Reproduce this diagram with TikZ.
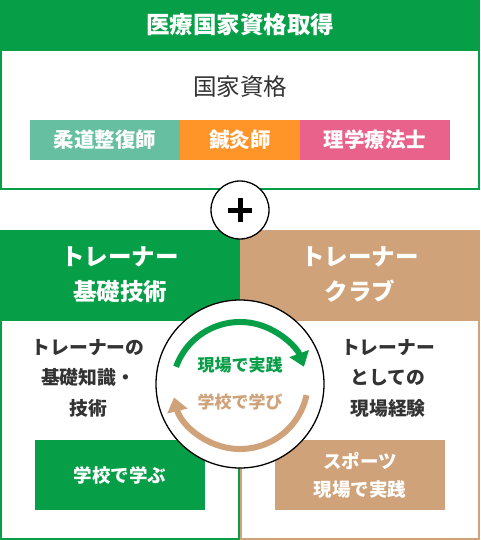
\documentclass[tikz,border=0pt]{standalone}
\usepackage{fontspec}
\newfontfamily\jpfont{Noto Sans CJK JP}
\usetikzlibrary{arrows.meta}
\definecolor{certgreen}{HTML}{079E48}
\definecolor{clubtan}{HTML}{CFA27A}
\definecolor{judoteal}{HTML}{66BFA0}
\definecolor{acuorange}{HTML}{FF9428}
\definecolor{physpink}{HTML}{E8628B}
\definecolor{bodygray}{HTML}{333333}
\tikzset{
	band/.style = {rectangle, anchor = north west, inner sep = 0pt, outer sep = 0pt, text = white},
	frame/.style = {rectangle, anchor = north west, inner sep = 0pt, outer sep = 0pt, line width = 2pt},
	roundel/.style = {circle, draw = black, fill = white, line width = 1.3pt, inner sep = 0pt},
	body/.style = {align = center, text = bodygray, font = \jpfont\bfseries\fontsize{18.8}{30.5}\selectfont},
	cycle arrow/.style = {line width = 6pt, -{Triangle[length = 14pt, width = 20pt]}}
}

\begin{document}
\begin{tikzpicture}[x=1pt, y=-1pt]
	\useasboundingbox (0,0) rectangle (480,540);

	% medical qualification
	\node [band, fill = certgreen, minimum width = 480pt, minimum height = 50pt,
		font = \jpfont\bfseries\fontsize{23.5}{26}\selectfont] (title) at (0,0) {医療国家資格取得};
	\node [frame, draw = certgreen, minimum width = 478pt, minimum height = 139pt] (certbox) at (1,50) {};
	\node [text = bodygray, font = \jpfont\fontsize{23.5}{26}\selectfont] (kokka) at (240,87) {国家資格};
	\begin{scope}[every node/.append style = {font = \jpfont\bfseries\fontsize{20.5}{22}\selectfont, minimum height = 40pt}]
		\node [band, fill = judoteal, minimum width = 150pt] (judo) at (30,120) {柔道整復師};
		\node [band, fill = acuorange, minimum width = 120pt] (acu) at (judo.north east) {鍼灸師};
		\node [band, fill = physpink, minimum width = 150pt] (phys) at (acu.north east) {理学療法士};
	\end{scope}

	% trainer
	\begin{scope}[every node/.append style = {align = center, font = \jpfont\bfseries\fontsize{23.5}{35}\selectfont,
			minimum width = 240pt, minimum height = 90pt}]
		\node [band, fill = certgreen] (basic) at (0,230) {トレーナー\\基礎技術};
		\node [band, fill = clubtan] (club) at (basic.north east) {トレーナー\\クラブ};
	\end{scope}
	\node [frame, draw = certgreen, minimum width = 238pt, minimum height = 219pt] (basicbox) at (1,320) {};
	\node [frame, draw = clubtan, minimum width = 238pt, minimum height = 219pt] (clubbox) at (241,320) {};
	\node [body] (knowledge) at (88,378) {トレーナーの\\基礎知識・\\技術};
	\node [body] (experience) at (388,378) {トレーナー\\としての\\現場経験};
	\node [band, fill = certgreen, minimum width = 170pt, minimum height = 70pt,
		font = \jpfont\bfseries\fontsize{18.5}{28}\selectfont] (school) at (35,440) {学校で学ぶ};
	\node [band, fill = clubtan, minimum width = 170pt, minimum height = 70pt, align = center,
		font = \jpfont\bfseries\fontsize{18.5}{28}\selectfont] (field) at (275,440) {スポーツ\\現場で実践};

	% plus and cycle
	\node [roundel, minimum size = 58pt] (plus) at (240,210) {};
	\draw [line width = 5pt] ([xshift = -12pt] plus.center) -- ([xshift = 12pt] plus.center);
	\draw [line width = 5pt] ([yshift = -12pt] plus.center) -- ([yshift = 12pt] plus.center);

	\node [roundel, minimum size = 168pt] (cycle) at (240,384) {};
	\coordinate (upper) at (240,390);
	\coordinate (lower) at (240,381);
	\draw [cycle arrow, certgreen] ([shift = {(-160:68)}] upper) arc [start angle = -160, end angle = -20, radius = 68];
	\draw [cycle arrow, clubtan] ([shift = {(12:68)}] lower) arc [start angle = 12, end angle = 166, radius = 68];
	\node [text = certgreen, font = \jpfont\bfseries\fontsize{17}{20}\selectfont] (practice) at (240,365) {現場で実践};
	\node [text = clubtan, font = \jpfont\bfseries\fontsize{17}{20}\selectfont] (learn) at (240,402) {学校で学び};
\end{tikzpicture}
\end{document}
